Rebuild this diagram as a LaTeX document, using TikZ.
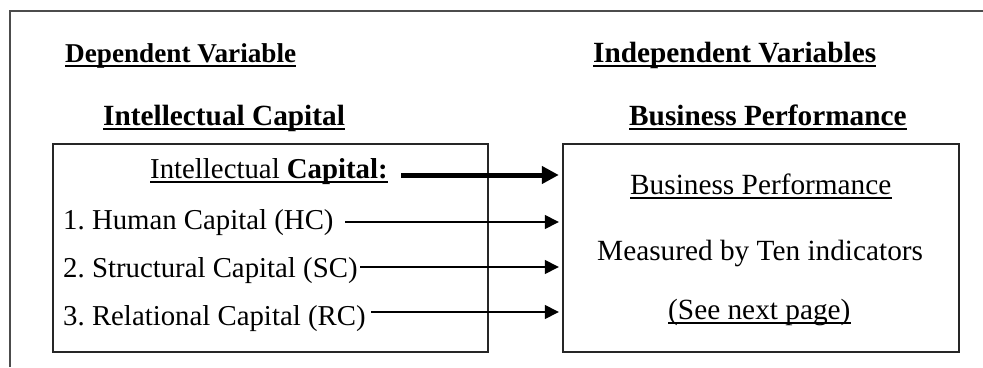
\documentclass[tikz,border=0pt]{standalone}
\usepackage{fontspec}
\setmainfont{Liberation Serif}
\usetikzlibrary{arrows.meta}
\frenchspacing
\begin{document}
\begin{tikzpicture}[x=1pt,y=-1pt,
  txt/.style={inner sep=0pt,anchor=base west,font=\fontsize{29.3}{34}\selectfont},
  ltxt/.style={inner sep=0pt,anchor=base west,font=\fontsize{28.8}{34}\selectfont},
  head/.style={inner sep=0pt,anchor=base west,font=\fontsize{29.3}{34}\selectfont\bfseries},
  box/.style={draw=black!85,line width=1.8pt},
  uline/.style={line width=1.3pt},
  buline/.style={line width=2pt},
  thin arrow/.style={line width=1.4pt,-{Triangle[length=14pt,width=14pt]},shorten >=4pt},
  thick arrow/.style={line width=5pt,-{Triangle[length=17pt,width=17pt]},shorten >=4pt}]
\useasboundingbox (0,0) rectangle (983,367);
% outer frame (open)
\draw[draw=black!70,line width=2pt] (10,367) -- (10,11) -- (983,11);
% boxes
\draw[box] (53,144) rectangle (488,352);
\node[draw=none,inner sep=0pt,minimum width=396pt,minimum height=208pt] (rbox) at (761,248) {};
\draw[box] (563,144) rectangle (959,352);
% headers
\node[head,font=\fontsize{27.2}{32}\selectfont\bfseries] (dep) at (65,62) {Dependent Variable};
\node[head] (indep) at (593,62) {Independent Variables};
\node[head] (ichead) at (103,125) {Intellectual Capital};
\node[head] (bphead) at (629,125) {Business Performance};
\foreach \n in {dep,indep,ichead,bphead}
  \draw[buline] ([yshift=-4pt]\n.base west) -- ([yshift=-4pt]\n.base east);
% left box texts
\node[ltxt] (ic) at (150,178) {Intellectual \textbf{Capital:}};
\node[ltxt] (hc) at (63,229) {1. Human Capital (HC)};
\node[ltxt] (sc) at (63,277) {2. Structural Capital (SC)};
\node[ltxt] (rc) at (63,325) {3. Relational Capital (RC)};
\draw[uline] ([yshift=-4pt]ic.base west) -- ([yshift=-4pt]ic.base east);
% right box texts
\node[txt] (bp) at (630,194) {Business Performance};
\node[txt] (mt) at (597,260) {Measured by Ten indicators};
\node[txt] (snp) at (668,319) {(See next page)};
\draw[uline] ([yshift=-4pt]bp.base west) -- ([yshift=-4pt]bp.base east);
\draw[uline] ([yshift=-4pt]snp.base west) -- ([yshift=-4pt]snp.base east);
% arrow start points
\coordinate (a0) at (401,175);
\coordinate (a1) at (345,222);
\coordinate (a2) at (360,267);
\coordinate (a3) at (371,312);
\draw[thick arrow] (a0) -- (a0 -| rbox.west);
\draw[thin arrow] (a1) -- (a1 -| rbox.west);
\draw[thin arrow] (a2) -- (a2 -| rbox.west);
\draw[thin arrow] (a3) -- (a3 -| rbox.west);
\end{tikzpicture}
\end{document}
